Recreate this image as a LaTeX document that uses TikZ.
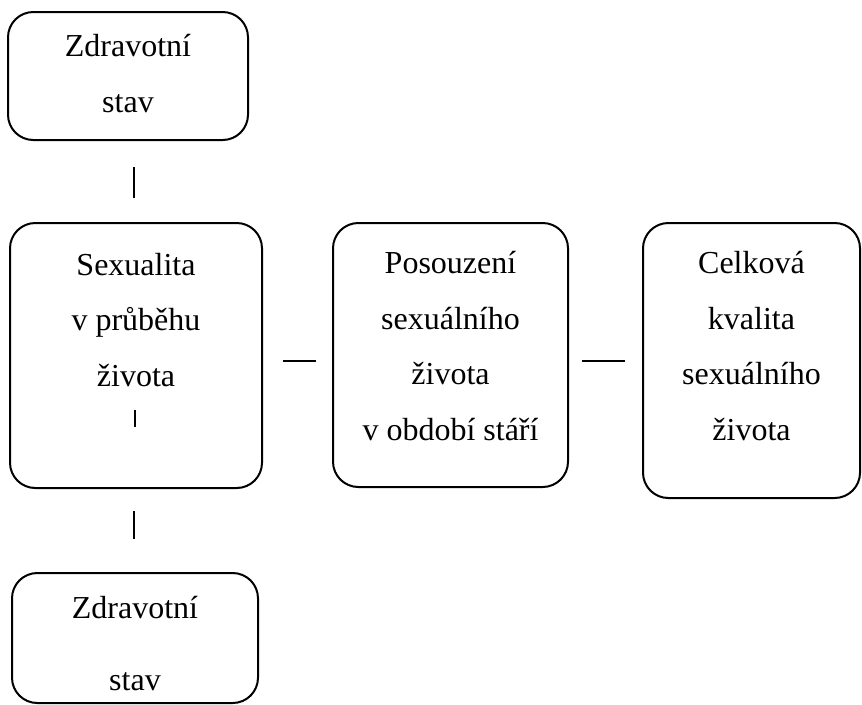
\documentclass[tikz,border=0pt]{standalone}
\usepackage{fontspec}
\setmainfont{Liberation Serif}
\usetikzlibrary{positioning}

\tikzset{
  box/.style={draw, line width=1.5pt, rounded corners=19pt, inner sep=0pt},
  txt/.style={align=center, anchor=base, inner sep=0pt, font=\fontsize{24}{41.6}\selectfont},
  link/.style={line width=1.5pt},
}

\begin{document}
\begin{tikzpicture}[x=0.75pt, y=-0.75pt]
    \useasboundingbox (0,0) rectangle (862,704);

    % boxes
    \node[box, minimum width=180pt, minimum height=96pt] (zdravA) at (128,76) {};
    \node[box, minimum width=189pt, minimum height=198.75pt] (sexual) at (136,355.5) {};
    \node[box, minimum width=176.25pt, minimum height=198pt] (posouz) at (450.5,355) {};
    \node[box, minimum width=162.75pt, minimum height=206.25pt] (celkem) at (751.5,360.5) {};
    \node[box, minimum width=184.5pt, minimum height=97.5pt] (zdravB) at (135,638) {};

    % texts (base = last line)
    \node[txt] (tzdravA) at (128,112) {Zdravotní\\stav};
    \node[txt] (tsexual) at (136,386) {Sexualita\\v průběhu\\života};
    \node[txt] (tposouz) at (450.5,440) {Posouzení\\sexuálního\\života\\v období stáří};
    \node[txt] (tcelkem) at (751.5,440) {Celková\\kvalita\\sexuálního\\života};
    \node[txt] (tzdravB) at (135,690) {Zdravotní\\[12.4pt]stav};

    % loose connectors
    \coordinate (v1a) at (134,167);
    \coordinate (v1b) at (134,198);
    \coordinate (tka) at (135,410);
    \coordinate (tkb) at (135,427);
    \coordinate (v2a) at (134,511);
    \coordinate (v2b) at (134,539);
    \coordinate (h1a) at (283,361);
    \coordinate (h1b) at (316,361);
    \coordinate (h2a) at (582,361);
    \coordinate (h2b) at (625,361);

    \draw[link] (v1a) -- (v1b);
    \draw[link] (tka) -- (tkb);
    \draw[link] (v2a) -- (v2b);
    \draw[link] (h1a) -- (h1b);
    \draw[link] (h2a) -- (h2b);
\end{tikzpicture}
\end{document}
